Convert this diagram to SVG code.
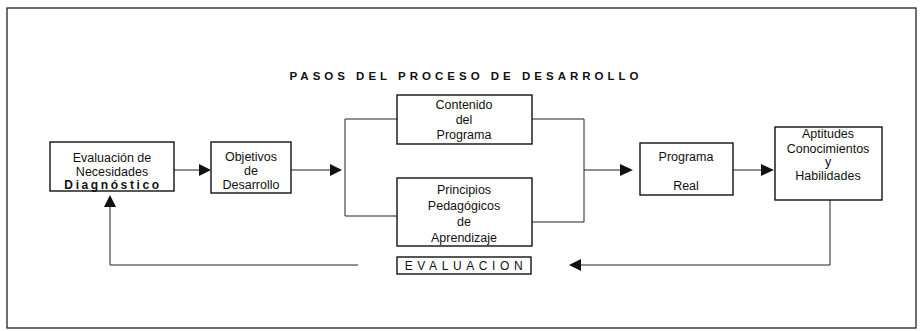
<svg xmlns="http://www.w3.org/2000/svg" width="922" height="331" viewBox="0 0 922 331">
<style>
.box{fill:#fff;stroke:#111;stroke-width:1.4}
.ln{fill:none;stroke:#222;stroke-width:1}
.t{font-family:"Liberation Sans",Arial,sans-serif;font-size:12.5px;fill:#111;text-anchor:middle}
.ttl{font-family:"Liberation Sans",Arial,sans-serif;font-size:11.5px;font-weight:bold;letter-spacing:4px;fill:#111;text-anchor:middle}
.ah{fill:#111}
</style>
<rect x="0" y="0" width="922" height="331" fill="#fff"/>
<rect x="7" y="8" width="909" height="320" fill="none" stroke="#222" stroke-width="1.3"/>
<text class="ttl" x="466" y="80">PASOS DEL PROCESO DE DESARROLLO</text>

<g id="connectors">
  <line class="ln" x1="174" y1="170" x2="200" y2="170"/>
  <polygon class="ah" points="211,170 199,164 199,176"/>
  <line class="ln" x1="291" y1="170" x2="331" y2="170"/>
  <polygon class="ah" points="342,170 330,164 330,176"/>
  <polyline class="ln" points="397,119 345,119 345,216 397,216"/>
  <polyline class="ln" points="532,119 584,119 584,222 532,222"/>
  <line class="ln" x1="584" y1="170" x2="621" y2="170"/>
  <polygon class="ah" points="633,170 620,164 620,176"/>
  <line class="ln" x1="733" y1="170" x2="762" y2="170"/>
  <polygon class="ah" points="774,170 761,164 761,176"/>
  <polyline class="ln" points="830,200 830,265 580,265"/>
  <polygon class="ah" points="569,265 581,259 581,271"/>
  <polyline class="ln" points="358,265 110,265 110,206"/>
  <polygon class="ah" points="110,195 104,207 116,207"/>
</g>

<g id="n1">
  <rect class="box" x="50" y="142" width="124" height="49"/>
  <text class="t" x="112" y="162">Evaluación de</text>
  <text class="t" x="112" y="176">Necesidades</text>
  <text class="t" x="113" y="189" style="letter-spacing:2.6px;font-weight:bold;font-size:12px">Diagnóstico</text>
</g>
<g id="n2">
  <rect class="box" x="211" y="142" width="80" height="51"/>
  <text class="t" x="251" y="161">Objetivos</text>
  <text class="t" x="251" y="175">de</text>
  <text class="t" x="251" y="189">Desarrollo</text>
</g>
<g id="n3">
  <rect class="box" x="397" y="95" width="135" height="49"/>
  <text class="t" x="464" y="109">Contenido</text>
  <text class="t" x="464" y="124">del</text>
  <text class="t" x="464" y="139">Programa</text>
</g>
<g id="n4">
  <rect class="box" x="397" y="178" width="135" height="68"/>
  <text class="t" x="464" y="194">Principios</text>
  <text class="t" x="464" y="210">Pedagógicos</text>
  <text class="t" x="464" y="226">de</text>
  <text class="t" x="464" y="242">Aprendizaje</text>
</g>
<g id="n5">
  <rect class="box" x="640" y="143" width="93" height="52"/>
  <text class="t" x="686" y="161">Programa</text>
  <text class="t" x="686" y="190">Real</text>
</g>
<g id="n6">
  <rect class="box" x="775" y="127" width="107" height="73"/>
  <text class="t" x="828" y="138">Aptitudes</text>
  <text class="t" x="828" y="153">Conocimientos</text>
  <text class="t" x="828" y="166">y</text>
  <text class="t" x="828" y="180">Habilidades</text>
</g>
<g id="n7">
  <rect class="box" x="397" y="257" width="134" height="17"/>
  <text class="t" x="466" y="270" style="letter-spacing:4.6px;font-size:12px">EVALUACION</text>
</g>
</svg>
